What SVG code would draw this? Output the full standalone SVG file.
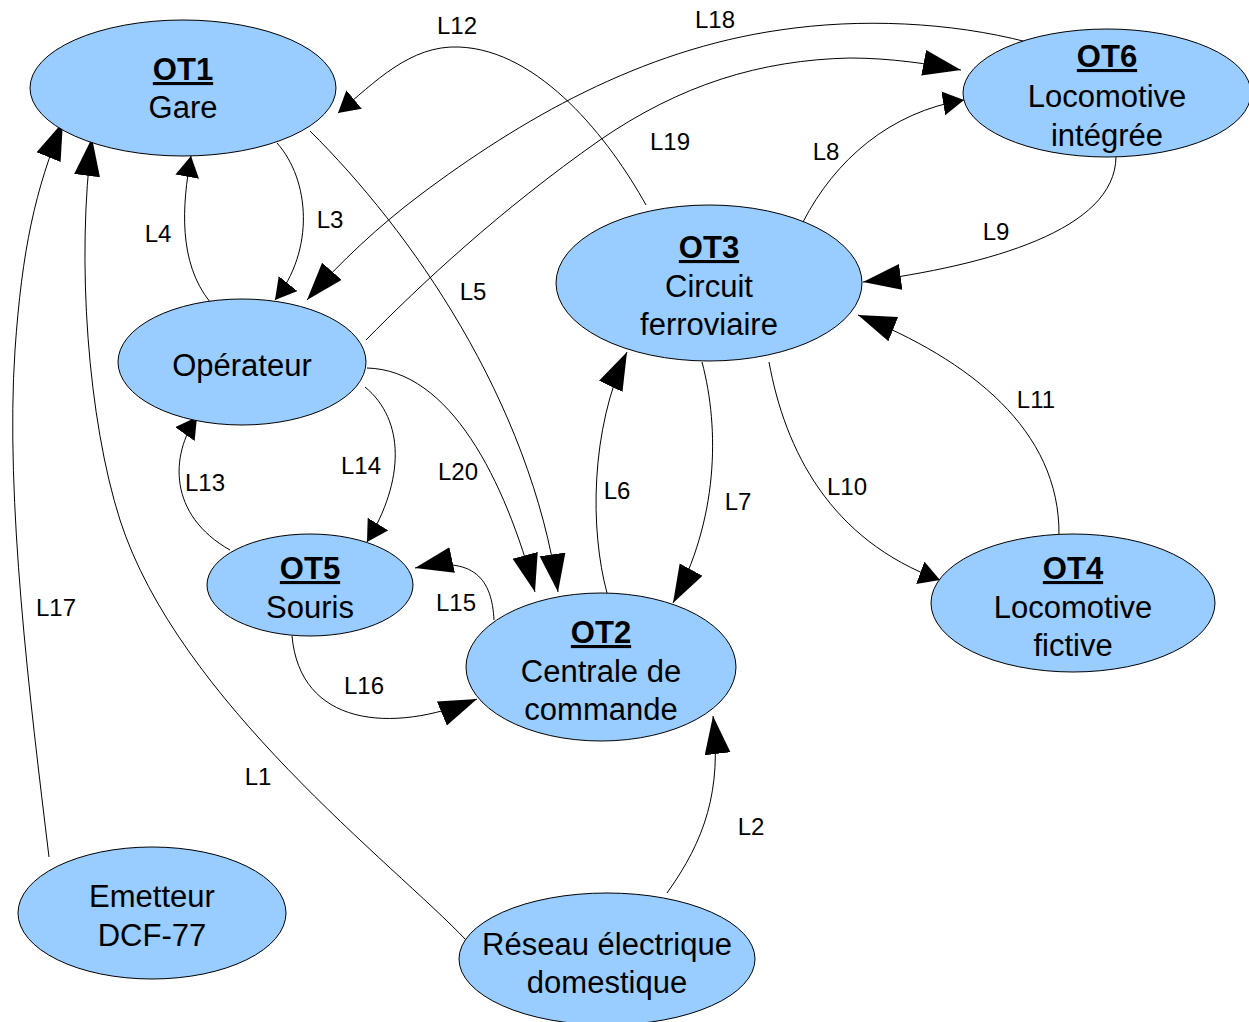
<svg xmlns="http://www.w3.org/2000/svg" width="1249" height="1022" viewBox="0 0 1249 1022">
  <style>
    .node ellipse { fill: #99ccff; stroke: #000; stroke-width: 1; }
    .node text { font-family: "Liberation Sans", Arial, sans-serif; font-size: 31px; fill: #000; text-anchor: middle; }
    .node .title { font-weight: bold; text-decoration: underline; }
    .edge { fill: none; stroke: #000; stroke-width: 1; }
    .big { marker-end: url(#arrowBig); }
    .small { marker-end: url(#arrowSmall); }
    .lbl { font-family: "Liberation Sans", Arial, sans-serif; font-size: 24px; fill: #000; text-anchor: middle; }
  </style>
  <defs>
    <marker id="arrowBig" markerUnits="userSpaceOnUse" markerWidth="40" markerHeight="28" refX="38" refY="13" orient="auto">
      <path d="M0,0 L38,13 L0,26 z" fill="#000"/>
    </marker>
    <marker id="arrowSmall" markerUnits="userSpaceOnUse" markerWidth="24" markerHeight="26" refX="21" refY="12" orient="auto">
      <path d="M0,0 L21,12 L0,24 z" fill="#000"/>
    </marker>
  </defs>

  <rect width="1249" height="1022" fill="#fff"/>

  <!-- connectors -->
  <g id="connectors">
    <path id="L1" class="edge big" d="M466,940 C395,865 178,700 120,520 C88,420 76,260 92,138"/>
    <path id="L2" class="edge big" d="M667,893 C705,840 722,790 713,716"/>
    <path id="L3" class="edge small" d="M277,143 C310,180 315,250 275,300"/>
    <path id="L4" class="edge small" d="M210,302 C178,262 182,205 191,156"/>
    <path id="L5" class="edge big" d="M310,131 C410,230 530,400 558,592"/>
    <path id="L6" class="edge big" d="M607,593 C590,530 590,430 627,352"/>
    <path id="L7" class="edge big" d="M702,362 C720,430 718,520 673,603"/>
    <path id="L8" class="edge small" d="M803,222 C835,160 890,112 964,100"/>
    <path id="L9" class="edge big" d="M1116,157 C1115,230 990,265 863,282"/>
    <path id="L10" class="edge small" d="M769,362 C785,450 830,540 940,580"/>
    <path id="L11" class="edge big" d="M1059,535 C1060,430 970,360 858,315"/>
    <path id="L12" class="edge small" d="M646,205 C610,140 540,50 459,47 C410,45 375,82 338,113"/>
    <path id="L13" class="edge small" d="M230,550 C168,515 170,455 197,417"/>
    <path id="L14" class="edge small" d="M365,387 C405,420 405,480 367,542"/>
    <path id="L15" class="edge big" d="M494,620 C492,580 475,555 415,568"/>
    <path id="L16" class="edge big" d="M292,636 C300,725 390,735 477,699"/>
    <path id="L17" class="edge big" d="M49,857 C30,700 5,500 15,350 C22,250 35,190 63,122"/>
    <path id="L18" class="edge big" d="M1027,42 C950,22 860,18 780,30 C640,50 520,120 420,195 C380,225 340,262 307,300"/>
    <path id="L19" class="edge big" d="M366,340 C420,285 500,210 600,140 C680,85 760,60 850,58 C890,58 930,64 961,70"/>
    <path id="L20" class="edge big" d="M367,368 C450,370 505,480 535,592"/>

    <text class="lbl" x="457" y="34">L12</text>
    <text class="lbl" x="715" y="28">L18</text>
    <text class="lbl" x="670" y="150">L19</text>
    <text class="lbl" x="826" y="160">L8</text>
    <text class="lbl" x="996" y="240">L9</text>
    <text class="lbl" x="330" y="228">L3</text>
    <text class="lbl" x="158" y="242">L4</text>
    <text class="lbl" x="473" y="300">L5</text>
    <text class="lbl" x="1036" y="408">L11</text>
    <text class="lbl" x="847" y="495">L10</text>
    <text class="lbl" x="738" y="510">L7</text>
    <text class="lbl" x="617" y="499">L6</text>
    <text class="lbl" x="458" y="480">L20</text>
    <text class="lbl" x="361" y="474">L14</text>
    <text class="lbl" x="205" y="491">L13</text>
    <text class="lbl" x="456" y="611">L15</text>
    <text class="lbl" x="364" y="694">L16</text>
    <text class="lbl" x="56" y="616">L17</text>
    <text class="lbl" x="258" y="785">L1</text>
    <text class="lbl" x="751" y="835">L2</text>
  </g>

  <!-- nodes -->
  <g id="OT1" class="node">
    <ellipse cx="183" cy="88" rx="153" ry="68"/>
    <text x="183" y="80" class="title">OT1</text>
    <text x="183" y="118">Gare</text>
  </g>
  <g id="operateur" class="node">
    <ellipse cx="242" cy="362" rx="124" ry="63"/>
    <text x="242" y="376">Opérateur</text>
  </g>
  <g id="OT5" class="node">
    <ellipse cx="310" cy="585" rx="103" ry="51"/>
    <text x="310" y="579" class="title">OT5</text>
    <text x="310" y="618">Souris</text>
  </g>
  <g id="OT2" class="node">
    <ellipse cx="601" cy="667" rx="135" ry="74"/>
    <text x="601" y="643" class="title">OT2</text>
    <text x="601" y="682">Centrale de</text>
    <text x="601" y="720">commande</text>
  </g>
  <g id="OT3" class="node">
    <ellipse cx="709" cy="283" rx="153" ry="78"/>
    <text x="709" y="258" class="title">OT3</text>
    <text x="709" y="297">Circuit</text>
    <text x="709" y="335">ferroviaire</text>
  </g>
  <g id="OT6" class="node">
    <ellipse cx="1107" cy="93" rx="144" ry="64"/>
    <text x="1107" y="67" class="title">OT6</text>
    <text x="1107" y="107">Locomotive</text>
    <text x="1107" y="146">intégrée</text>
  </g>
  <g id="OT4" class="node">
    <ellipse cx="1073" cy="603" rx="142" ry="69"/>
    <text x="1073" y="579" class="title">OT4</text>
    <text x="1073" y="618">Locomotive</text>
    <text x="1073" y="656">fictive</text>
  </g>
  <g id="emetteur" class="node">
    <ellipse cx="152" cy="913" rx="134" ry="66"/>
    <text x="152" y="907">Emetteur</text>
    <text x="152" y="946">DCF-77</text>
  </g>
  <g id="reseau" class="node">
    <ellipse cx="607" cy="959" rx="148" ry="66"/>
    <text x="607" y="955">Réseau électrique</text>
    <text x="607" y="993">domestique</text>
  </g>
</svg>
